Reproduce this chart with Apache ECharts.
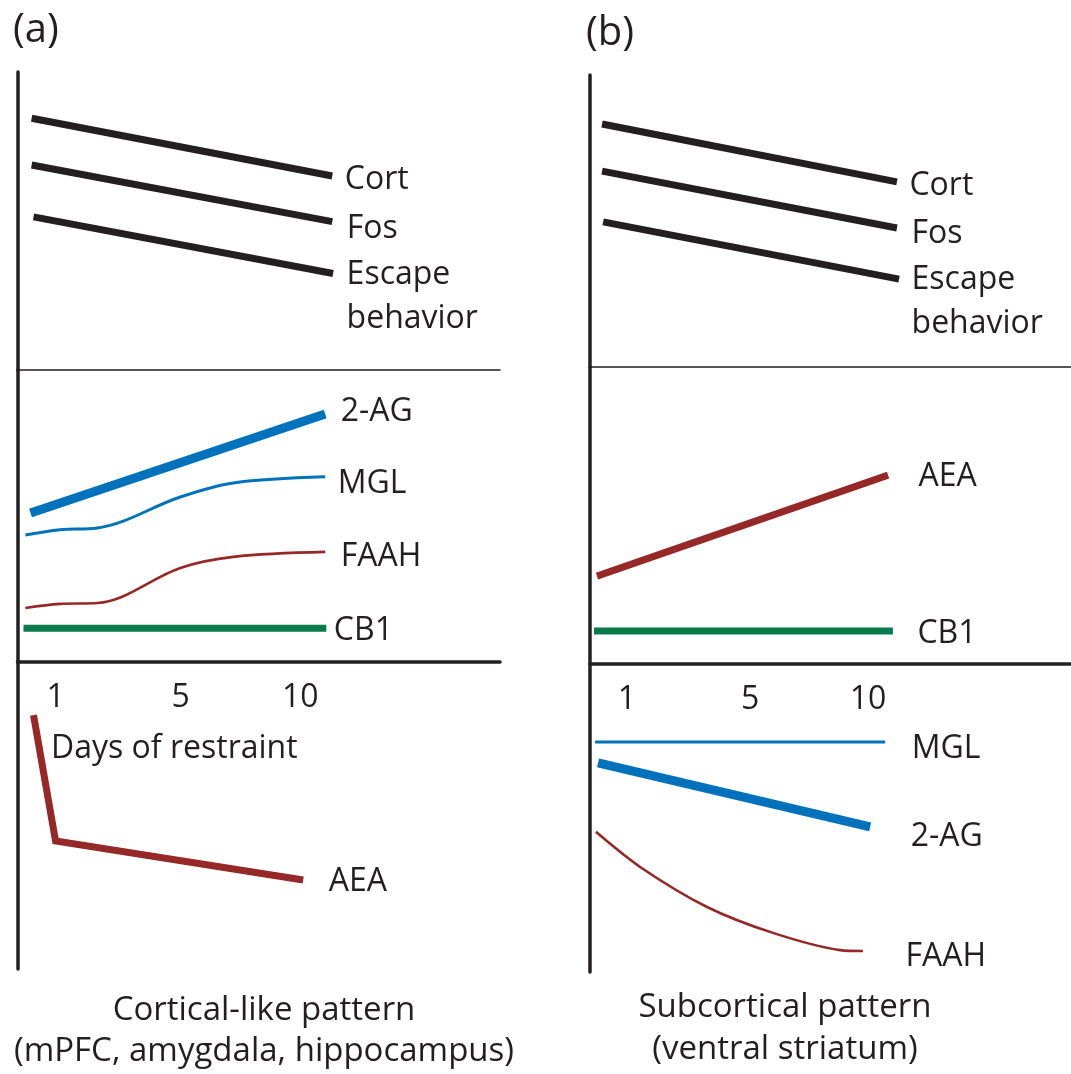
<!DOCTYPE html>
<html><head><meta charset="utf-8">
<script src="https://cdn.jsdelivr.net/npm/echarts@6/dist/echarts.min.js"></script>
<style>html,body{margin:0;padding:0;background:#fff}#c{width:1071px;height:1074px}</style>
</head><body><div id="c"></div>
<script>
// ---- Data (x = days of restraint, schematic; y = relative level 0-100 within each band) ----
const dayTickLabels = ['1', '5', '10'];
const dayTickPos = [1, 5.6, 10];

// Panel (a) cortical-like pattern
const aCort   = [[0.12, 84.5], [11.18, 65.1]];
const aFos    = [[0.12, 68.8], [11.18, 49.8]];
const aEscape = [[0.19, 51.4], [11.21, 32.4]];
const a2AG    = [[0.08, 51.0], [10.92, 84.9]];
const aMGL    = [[-0.11, 43.5], [1.16, 45.3], [2.54, 45.9], [5.59, 56.5], [7.54, 61.3], [10.92, 63.4]];
const aFAAH   = [[-0.11, 18.5], [1.16, 19.9], [2.54, 20.2], [5.59, 32.2], [7.54, 36.0], [10.92, 37.7]];
const aCB1    = [[-0.18, 11.6], [10.96, 11.6]];
const aAEA    = [[0.19, 82.7], [1.0, 41.7], [10.11, 29.0]];

// Panel (b) subcortical pattern
const bCort   = [[0.07, 83.2], [11.08, 63.4]];
const bFos    = [[0.07, 67.1], [11.08, 47.6]];
const bEscape = [[0.11, 49.7], [11.16, 30.1]];
const bAEA    = [[-0.12, 29.6], [10.75, 63.6]];
const bCB1    = [[-0.23, 11.1], [10.93, 11.1]];
const bMGL    = [[-0.19, 74.7], [10.64, 74.7]];
const b2AG    = [[-0.08, 67.9], [10.08, 47.1]];
const bFAAH   = [[-0.16, 45.5], [1.49, 34.1], [3.99, 21.1], [6.45, 12.7], [8.96, 7.1], [9.81, 6.8]];

// ---- Styling ----
const FONT = 'Open Sans';
const INK = '#231f20';
const BLUE = '#0072bc';
const RED = '#972828';
const GREEN = '#087a4b';
const FS = 32;

const chart = echarts.init(document.getElementById('c'), null, {renderer: 'canvas'});

const grids = [
  {left: 17.5, width: 482.5, top: 72, height: 298},
  {left: 17.5, width: 482.5, top: 370, height: 292},
  {left: 17.5, width: 482.5, top: 662, height: 307},
  {left: 590, right: 0, top: 75, height: 292},
  {left: 590, right: 0, top: 367, height: 297},
  {left: 590, right: 0, top: 664, height: 308}
];

function xAxisFor(i) {
  const isA = i < 3;
  const role = i % 3; // 0 top, 1 mid, 2 bottom
  const ax = {
    type: 'value', gridIndex: i,
    min: isA ? -0.4 : -0.38, max: isA ? 17.35 : 17.58,
    splitLine: {show: false}, axisTick: {show: false},
    axisLabel: {show: false},
    axisLine: {show: role !== 2, onZero: false, lineStyle: {color: INK, width: role === 0 ? 1.5 : 3.5}}
  };
  if (role === 2) ax.show = false;
  if (role === 1) {
    ax.axisLabel = {
      show: true, customValues: dayTickPos, margin: 20,
      color: INK, fontSize: FS, fontFamily: FONT,
      formatter: function (v) {
        let best = 0;
        dayTickPos.forEach(function (p, k) { if (Math.abs(p - v) < Math.abs(dayTickPos[best] - v)) best = k; });
        return dayTickLabels[best];
      }
    };
  }
  return ax;
}
function yAxisFor(i) {
  return {
    type: 'value', gridIndex: i, min: 0, max: 100,
    splitLine: {show: false}, axisTick: {show: false}, axisLabel: {show: false},
    axisLine: {show: true, onZero: false, lineStyle: {color: INK, width: 3.5}}
  };
}

function mk(name, pts, grid, color, width, lab, smooth) {
  const data = pts.map(function (p, k) {
    const item = {value: p};
    if (k === pts.length - 1) {
      item.label = {
        show: true, position: 'right', distance: lab[0], offset: [0, lab[1] + 2],
        formatter: lab[2] || name, color: INK, fontSize: FS, fontFamily: FONT,
        lineHeight: 44, align: 'left', verticalAlign: 'middle'
      };
    }
    return item;
  });
  return {
    type: 'line', name: name, xAxisIndex: grid, yAxisIndex: grid, data: data,
    symbol: 'circle', symbolSize: 1, showSymbol: true, showAllSymbol: true, clip: false,
    smooth: smooth ? smooth : false,
    lineStyle: {color: color, width: width, cap: 'butt', join: 'miter'},
    itemStyle: {color: 'rgba(0,0,0,0)', borderWidth: 0},
    label: {show: false}, emphasis: {disabled: true}, silent: true
  };
}

const series = [
  mk('Cort', aCort, 0, INK, 7, [12, 2]),
  mk('Fos', aFos, 0, INK, 7, [14, 5]),
  mk('Escape behavior', aEscape, 0, INK, 7, [13, 21, 'Escape\nbehavior']),
  mk('2-AG', a2AG, 1, BLUE, 9, [15, -4]),
  mk('MGL', aMGL, 1, BLUE, 3, [12, 5], 0.35),
  mk('FAAH', aFAAH, 1, RED, 2.6, [15, 3], 0.35),
  mk('CB1', aCB1, 1, GREEN, 7, [7, 1]),
  mk('AEA', aAEA, 2, RED, 7, [25, 0]),
  mk('Cort', bCort, 3, INK, 7, [12, 2]),
  mk('Fos', bFos, 3, INK, 7, [14, 4]),
  mk('Escape behavior', bEscape, 3, INK, 7, [12, 21, 'Escape\nbehavior']),
  mk('AEA', bAEA, 4, RED, 7, [30, 0]),
  mk('CB1', bCB1, 4, GREEN, 7, [24, 1]),
  mk('MGL', bMGL, 5, BLUE, 3, [26, 5]),
  mk('2-AG', b2AG, 5, BLUE, 9, [40, 8]),
  mk('FAAH', bFAAH, 5, RED, 2.6, [42, 4], 0.3)
];

const tStyle = {fontFamily: FONT, fontWeight: 'normal', color: INK, fontSize: FS};
const option = {
  backgroundColor: '#ffffff',
  animation: false,
  title: [
    {text: '(a)', left: 13, top: 6, padding: 0, textStyle: Object.assign({}, tStyle, {fontSize: 40, lineHeight: 50})},
    {text: '(b)', left: 586, top: 9, padding: 0, textStyle: Object.assign({}, tStyle, {fontSize: 40, lineHeight: 50})},
    {text: 'Days of restraint', left: 51, top: 730, padding: 0, textStyle: Object.assign({}, tStyle, {lineHeight: 38})},
    {text: 'Cortical-like pattern\n(mPFC, amygdala, hippocampus)', left: 264, textAlign: 'center', top: 990, padding: 0,
      textStyle: Object.assign({}, tStyle, {fontSize: 33, lineHeight: 41})},
    {text: 'Subcortical pattern\n(ventral striatum)', left: 785, textAlign: 'center', top: 987, padding: 0,
      textStyle: Object.assign({}, tStyle, {fontSize: 33, lineHeight: 42})}
  ],
  grid: grids,
  xAxis: grids.map(function (g, i) { return xAxisFor(i); }),
  yAxis: grids.map(function (g, i) { return yAxisFor(i); }),
  series: series
};
chart.setOption(option);
</script></body></html>
